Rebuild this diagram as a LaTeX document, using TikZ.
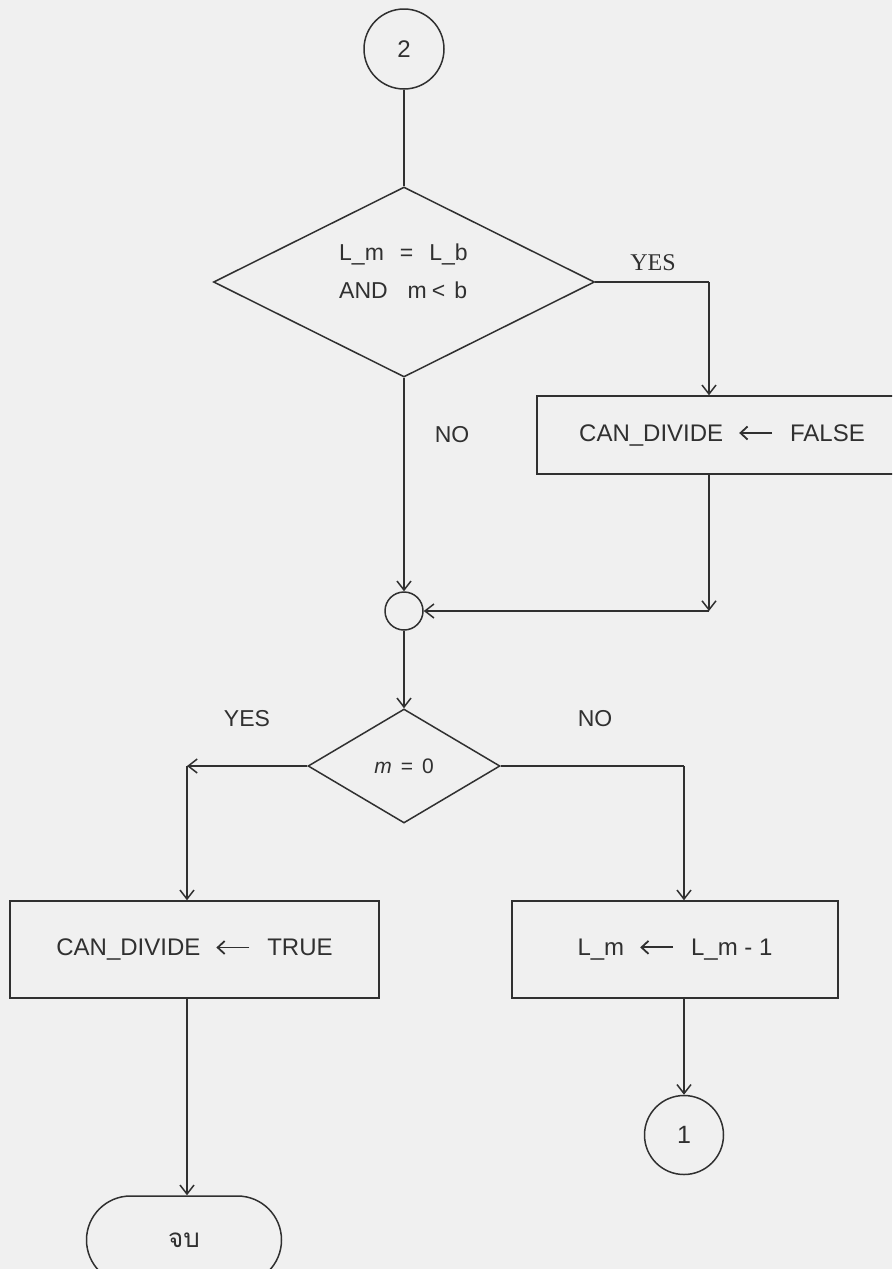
\documentclass[tikz,border=0pt]{standalone}
\usepackage{fontspec}
\setmainfont{Liberation Sans}
\newfontfamily\yesserif{Liberation Serif}
\newfontfamily\thaifont[Script=Thai]{Loma}
\usetikzlibrary{arrows.meta,shapes.geometric}
\definecolor{ink}{HTML}{303030}
\definecolor{paper}{HTML}{F0F0F0}
\newcommand{\asg}{\hspace{15pt}\tikz[baseline={(0pt,-8pt)}]\draw[draw=ink, line width=1.8pt, -{Straight Barb[length=7pt,width=13pt]}] (33pt,0pt) -- (0pt,0pt);\hspace{17pt}}
\tikzset{
  wire/.style={draw=ink, line width=1.5pt},
  arr/.style={-{Straight Barb[length=9pt,width=14pt]}},
  procbox/.style={draw=ink, line width=1.5pt, rectangle, inner sep=0pt, text=ink,
    font=\fontsize{24}{24}\selectfont},
  decbox/.style={draw=ink, line width=1.5pt, diamond, inner sep=0pt},
  conbox/.style={draw=ink, line width=1.5pt, circle, inner sep=0pt, text=ink,
    font=\fontsize{24}{24}\selectfont},
  termbox/.style={draw=ink, line width=1.5pt, rectangle, rounded corners=44pt,
    inner sep=0pt, text=ink},
  lbl/.style={text=ink, inner sep=0pt, font=\fontsize{23}{23}\selectfont},
}
\begin{document}
\begin{tikzpicture}[x=1pt,y=-1pt]
\fill[paper] (0,0) rectangle (892,1269);
\useasboundingbox (0,0) rectangle (892,1269);
\clip (0,0) rectangle (892,1269);

% top connector and first decision
\node[conbox, minimum size=80pt] (c2) at (404,49) {2};
\node[decbox, minimum width=381pt, minimum height=190pt] (d1) at (404,282) {};
\node[lbl, anchor=west, align=left, font=\fontsize{23}{38}\selectfont] (t1) at (339,271)
  {L\_m\hspace{16pt}=\hspace{16pt}L\_b\\AND\hspace{20pt}m\hspace{5pt}<\hspace{9pt}b};
\draw[wire] (c2.south) -- (d1.north);

\node[lbl, font=\yesserif\fontsize{24}{24}\selectfont] (yes1) at (653,263) {YES};
\node[procbox, minimum width=370pt, minimum height=78pt] (b1) at (722,435) {CAN\_DIVIDE\asg FALSE};
\coordinate (k1) at (709,282);
\draw[wire] (d1.east) -- (k1);
\draw[wire,arr] (k1) -- (k1 |- b1.north);

\node[lbl] (no1) at (452,435) {NO};

% junction
\node[conbox, minimum size=38pt] (j) at (404,611) {};
\draw[wire,arr] (d1.south) -- (j.north);
\coordinate (k2) at (709,611);
\draw[wire,arr] (b1.south -| k1) -- (k2);
\draw[wire,arr] (k2) -- (j.east);

% second decision
\node[decbox, minimum width=192pt, minimum height=114pt] (d2) at (404,766) {};
\node[lbl, font=\fontsize{21}{21}\selectfont] (t2) at (d2) {\textit{m}\hspace{9pt}=\hspace{9pt}0};
\draw[wire,arr] (j.south) -- (d2.north);
\node[lbl] (yes2) at (247,719) {YES};
\node[lbl] (no2) at (595,719) {NO};

\node[procbox, minimum width=369pt, minimum height=97pt] (b2) at (194.5,949.5) {CAN\_DIVIDE\asg TRUE};
\node[procbox, minimum width=326pt, minimum height=97pt] (b3) at (675,949.5) {L\_m\asg L\_m - 1};

\coordinate (k3) at (187,766);
\coordinate (k4) at (684,766);
\draw[wire,arr] (d2.west) -- (k3);
\draw[wire,arr] (k3) -- (k3 |- b2.north);
\draw[wire] (d2.east) -- (k4);
\draw[wire,arr] (k4) -- (k4 |- b3.north);

% ends
\node[conbox, minimum size=79pt, font=\fontsize{25}{25}\selectfont] (c1) at (684,1135) {1};
\draw[wire,arr] (b3.south -| c1) -- (c1.north);

\node[termbox, minimum width=195pt, minimum height=88pt, font=\thaifont\fontsize{26}{26}\selectfont] (end) at (184,1240) {จบ};
\draw[wire,arr] (b2.south -| k3) -- (end.north -| k3);
\end{tikzpicture}
\end{document}
